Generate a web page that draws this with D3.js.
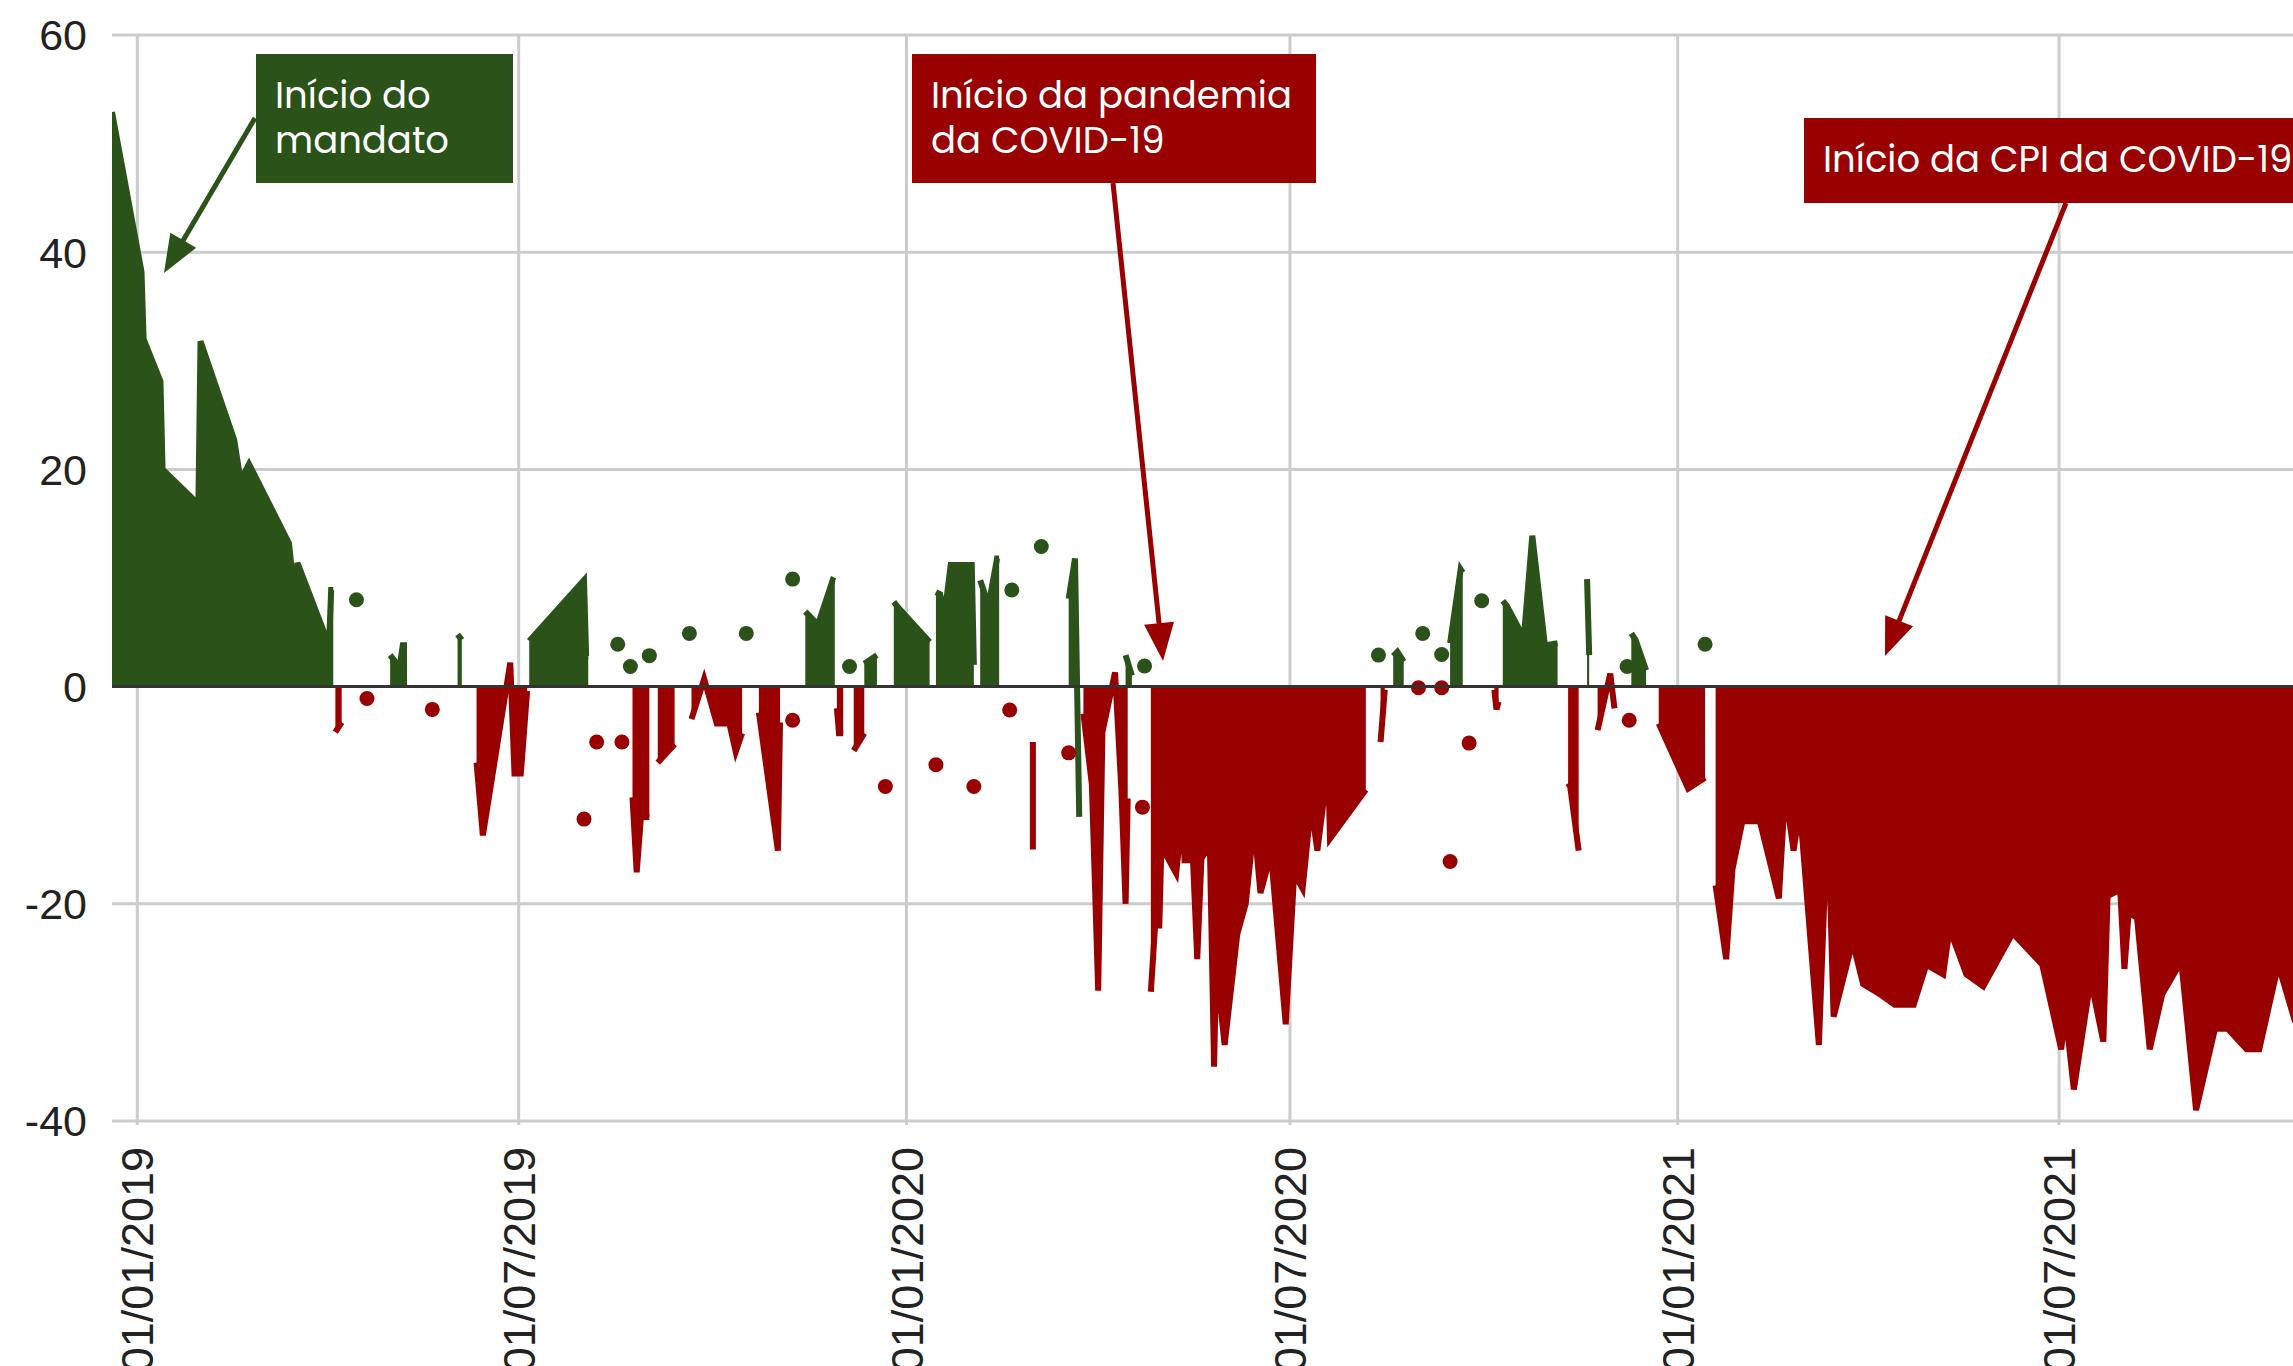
<!DOCTYPE html>
<html>
<head>
<meta charset="utf-8">
<script src="https://cdn.jsdelivr.net/npm/d3@7"></script>
<style>
html, body { margin: 0; padding: 0; background: #ffffff; overflow: hidden; }
</style>
</head>
<body>
<svg id="chart" width="2293" height="1366"></svg>
<script>
// ---------------- DATA ----------------
const xTickDates = ["2019-01-01", "2019-07-01", "2020-01-01", "2020-07-01", "2021-01-01", "2021-07-01"];
const yTicks = [-40, -20, 0, 20, 40, 60];

// Green series (null = gap between polls runs)
const greenDates = [
  "2018-12-20","2019-01-03","2019-01-04","2019-01-12","2019-01-13","2019-01-30","2019-01-31","2019-02-16","2019-02-19","2019-02-23","2019-03-14","2019-03-17","2019-03-18","2019-04-02","2019-04-03","2019-04-04", null,
  "2019-04-15", null,
  "2019-05-01","2019-05-03","2019-05-05","2019-05-07","2019-05-09", null,
  "2019-06-02","2019-06-04", null,
  "2019-07-06","2019-08-01","2019-08-02","2019-08-03", null,
  "2019-08-17", null, "2019-08-23", null, "2019-09-01", null, "2019-09-20", null, "2019-10-17", null, "2019-11-08", null,
  "2019-11-14","2019-11-20","2019-11-27","2019-11-28", null,
  "2019-12-05", null,
  "2019-12-12","2019-12-18", null,
  "2019-12-26","2019-12-28","2020-01-12", null,
  "2020-01-15","2020-01-17","2020-01-19","2020-01-22","2020-02-01","2020-02-02", null,
  "2020-02-05","2020-02-09","2020-02-13","2020-02-14", null,
  "2020-02-20", null, "2020-03-05", null,
  "2020-03-18","2020-03-21","2020-03-23", null,
  "2020-04-14","2020-04-17", null,
  "2020-04-23", null, "2020-08-12", null,
  "2020-08-19","2020-08-21","2020-08-24", null,
  "2020-09-02", null, "2020-09-11", null,
  "2020-09-15","2020-09-20","2020-09-21", null,
  "2020-09-30", null,
  "2020-10-10","2020-10-12","2020-10-20","2020-10-24","2020-10-30","2020-11-05", null,
  "2020-11-19","2020-11-20", null,
  "2020-12-08", null,
  "2020-12-10","2020-12-12","2020-12-17", null,
  "2021-01-14"
];
const greenValues = [
  52.9, 38.2, 32.0, 28.1, 20.0, 16.8, 31.8, 22.7, 19.0, 20.5, 13.2, 7.7, 11.4, 3.8, 8.9, 8.9, null,
  8.0, null,
  2.9, 2.4, 1.2, 3.8, 3.8, null,
  4.8, 4.3, null,
  4.2, 9.8, 2.8, 2.8, null,
  3.9, null, 1.85, null, 2.85, null, 4.9, null, 4.9, null, 9.9, null,
  6.9, 5.7, 9.8, 9.7, null,
  1.85, null,
  2.1, 2.9, null,
  7.8, 7.3, 4.1, null,
  8.7, 8.5, 6.5, 11.2, 11.2, 2.0, null,
  9.8, 7.5, 11.8, 11.8, null,
  8.9, null, 12.9, null,
  8.1, 11.8, -12.0, null,
  2.9, 1.0, null,
  1.9, null, 2.9, null,
  2.8, 3.2, 2.3, null,
  4.9, null, 2.95, null,
  4.0, 10.8, 10.5, null,
  7.9, null,
  7.9, 7.4, 4.5, 13.9, 3.8, 4.0, null,
  9.9, 2.9, null,
  1.85, null,
  4.9, 4.3, 1.5, null,
  3.9
];

// Red series (null = gap)
const redDates = [
  "2019-04-05","2019-04-08", null,
  "2019-04-20", null, "2019-05-21", null,
  "2019-06-11","2019-06-14","2019-06-27","2019-06-29","2019-07-02","2019-07-03","2019-07-05", null,
  "2019-08-01", null, "2019-08-07", null, "2019-08-19", null,
  "2019-08-24","2019-08-26","2019-08-28","2019-09-01", null,
  "2019-09-05","2019-09-13", null,
  "2019-09-21","2019-09-27","2019-10-03","2019-10-09","2019-10-12","2019-10-15", null,
  "2019-10-23","2019-11-01","2019-11-02", null,
  "2019-11-08", null,
  "2019-11-29","2019-11-30","2019-12-02", null,
  "2019-12-07","2019-12-12", null,
  "2019-12-22", null, "2020-01-15", null, "2020-02-02", null, "2020-02-19", null,
  "2020-03-01","2020-03-01", null,
  "2020-03-18", null,
  "2020-03-25","2020-03-29","2020-04-01","2020-04-03","2020-04-09","2020-04-12","2020-04-14","2020-04-15", null,
  "2020-04-22", null,
  "2020-04-26","2020-04-28","2020-04-30","2020-05-01","2020-05-08","2020-05-11","2020-05-12","2020-05-16","2020-05-18","2020-05-20","2020-05-24","2020-05-26","2020-05-27","2020-05-31",
  "2020-06-06","2020-06-10","2020-06-14","2020-06-17","2020-06-22","2020-06-29","2020-07-03","2020-07-07","2020-07-11","2020-07-14","2020-07-17","2020-07-19","2020-07-20","2020-08-06", null,
  "2020-08-13","2020-08-15", null,
  "2020-08-31", null, "2020-09-11", null, "2020-09-15", null, "2020-09-24", null,
  "2020-10-06","2020-10-07","2020-10-08", null,
  "2020-11-10","2020-11-11","2020-11-15", null,
  "2020-11-24","2020-11-30","2020-12-02", null,
  "2020-12-09", null,
  "2020-12-23","2021-01-06","2021-01-14", null,
  "2021-01-19","2021-01-24","2021-01-27","2021-02-02","2021-02-03","2021-02-09","2021-02-18","2021-02-21","2021-02-25","2021-02-28",
  "2021-03-09","2021-03-12","2021-03-14","2021-03-16","2021-03-25","2021-03-30","2021-04-06","2021-04-14","2021-04-23","2021-04-29",
  "2021-05-07","2021-05-10","2021-05-18","2021-05-26","2021-06-09","2021-06-23","2021-07-02","2021-07-04","2021-07-08","2021-07-16",
  "2021-07-22","2021-07-24","2021-07-30","2021-08-01","2021-08-03","2021-08-07","2021-08-13","2021-08-19","2021-08-28","2021-09-04",
  "2021-09-13","2021-09-19","2021-09-28","2021-10-04","2021-10-13","2021-10-20","2021-10-27"
];
const redValues = [
  -4.2, -3.3, null,
  -1.1, null, -2.1, null,
  -7.0, -13.7, 2.2, -8.0, -8.0, -5.5, -0.4, null,
  -12.2, null, -5.1, null, -5.1, null,
  -10.2, -17.1, -12.0, -12.0, null,
  -7.0, -5.3, null,
  -3.0, 0.7, -3.4, -3.4, -6.0, -4.3, null,
  -2.4, -15.1, -3.3, null,
  -3.1, null,
  -2.0, -4.3, -4.3, null,
  -5.9, -4.3, null,
  -9.2, null, -7.2, null, -9.2, null, -2.15, null,
  -5.1, -15.0, null,
  -6.1, null,
  -2.5, -9.0, -28.0, -4.2, 1.3, -9.5, -20.0, -10.3, null,
  -11.1, null,
  -28.1, -22.0, -22.0, -14.7, -17.2, -11.7, -16.0, -16.0, -25.1, -15.8, -14.7, -35.0, -25.6, -33.0,
  -22.8, -20.0, -12.6, -19.0, -15.4, -31.1, -17.2, -18.6, -10.9, -15.1, -10.5, -5.9, -14.0, -9.5, null,
  -5.1, -0.3, null,
  -0.1, null, -0.1, null, -16.1, null, -5.2, null,
  -0.3, -2.1, -1.4, null,
  -8.9, -9.2, -15.1, null,
  -4.0, 1.2, -2.0, null,
  -3.1, null,
  -3.4, -9.4, -8.4, null,
  -18.3, -25.1, -16.8, -11.2, -12.4, -12.4, -19.5, -9.6, -15.1, -11.2,
  -33.0, -17.5, -16.8, -30.4, -23.5, -27.4, -28.2, -29.3, -29.3, -25.6,
  -26.5, -22.3, -26.5, -27.6, -22.7, -25.6, -33.4, -30.0, -37.1, -27.0,
  -32.7, -19.3, -18.7, -26.0, -20.8, -21.3, -33.4, -28.3, -25.3, -39.0,
  -31.5, -31.5, -33.4, -33.4, -25.6, -30.2, -27.0
];

// Annotation texts
const annotationTexts = [
  ["Início do", "mandato"],
  ["Início da pandemia", "da COVID-19"],
  ["Início da CPI da COVID-19"]
];

// ---------------- STYLE / LAYOUT ----------------
const W = 2293, H = 1366;
const plot = { left: 112, right: 2293, top: 35, bottom: 1121 };
const GREEN = "#2a5219", RED = "#990000";
const axisFont = "'Liberation Sans', Arial, Helvetica, sans-serif";
const annFont = "'Poppins', 'Open Sans', 'Noto Sans', sans-serif";

const parse = d3.utcParse("%Y-%m-%d");
const fmt = d3.utcFormat("%d/%m/%Y");

const x = d3.scaleUtc()
  .domain([parse("2018-12-20"), parse("2021-10-20")])
  .range([plot.left, plot.right]);
const y = d3.scaleLinear().domain([-40, 60]).range([plot.bottom, plot.top]);

const svg = d3.select("#chart");

// clip
svg.append("defs").append("clipPath").attr("id", "plotclip")
  .append("rect").attr("x", plot.left).attr("y", 0)
  .attr("width", plot.right - plot.left).attr("height", plot.bottom + 6);

// gridlines
const grid = svg.append("g");
grid.selectAll("line.h").data(yTicks).join("line")
  .attr("x1", plot.left).attr("x2", plot.right)
  .attr("y1", d => y(d)).attr("y2", d => y(d))
  .attr("stroke", "#cccccc").attr("stroke-width", 3);
grid.selectAll("line.v").data(xTickDates.map(parse)).join("line")
  .attr("x1", d => x(d)).attr("x2", d => x(d))
  .attr("y1", plot.top).attr("y2", plot.bottom + 4)
  .attr("stroke", "#cccccc").attr("stroke-width", 3);

// y axis labels
svg.append("g").selectAll("text").data(yTicks).join("text")
  .attr("x", 87).attr("y", d => y(d)).attr("dy", "0.36em")
  .attr("text-anchor", "end")
  .attr("font-family", axisFont).attr("font-size", 43)
  .attr("fill", "#222222")
  .text(d => d);

// x axis labels (rotated)
svg.append("g").selectAll("text").data(xTickDates.map(parse)).join("text")
  .attr("transform", d => `translate(${x(d)},1147) rotate(-90)`)
  .attr("dy", "0.36em")
  .attr("text-anchor", "end")
  .attr("font-family", axisFont).attr("font-size", 45)
  .attr("fill", "#222222")
  .text(d => fmt(d));

// split a series into segments at nulls
function segments(dates, values) {
  const segs = [];
  let cur = [];
  dates.forEach((d, i) => {
    if (d === null || values[i] === null) {
      if (cur.length) segs.push(cur);
      cur = [];
    } else {
      cur.push({ date: parse(d), v: values[i] });
    }
  });
  if (cur.length) segs.push(cur);
  return segs;
}

const area = d3.area().x(d => x(d.date)).y0(y(0)).y1(d => y(d.v));
const line = d3.line().x(d => x(d.date)).y(d => y(d.v));

const series = [
  { segs: segments(greenDates, greenValues), color: GREEN },
  { segs: segments(redDates, redValues), color: RED }
];

const marks = svg.append("g").attr("clip-path", "url(#plotclip)");
series.forEach(s => {
  const multi = s.segs.filter(g => g.length > 1);
  marks.append("g").selectAll("path.a").data(multi).join("path")
    .attr("d", area).attr("fill", s.color).attr("stroke", "none");
  marks.append("g").selectAll("path.l").data(multi).join("path")
    .attr("d", line).attr("fill", "none").attr("stroke", s.color)
    .attr("stroke-width", 6);
});

// baseline
svg.append("line")
  .attr("x1", plot.left).attr("x2", plot.right)
  .attr("y1", y(0)).attr("y2", y(0))
  .attr("stroke", "#333333").attr("stroke-width", 3);

// isolated points as dots
series.forEach(s => {
  const singles = s.segs.filter(g => g.length === 1).map(g => g[0]);
  marks.append("g").selectAll("circle").data(singles).join("circle")
    .attr("cx", d => x(d.date)).attr("cy", d => y(d.v)).attr("r", 7.5)
    .attr("fill", s.color);
});

// ---------------- ANNOTATIONS ----------------
// font size calibrated so the longest two-line label has the reference width
const probe = svg.append("text").attr("font-family", annFont).attr("font-size", 100)
  .text("Início da pandemia");
const annSize = 100 * 361 / probe.node().getComputedTextLength();
probe.remove();

const annLayout = [
  { fill: GREEN, box: [256, 54, 257, 129], tx: 275, base: [108, 153], from: [255, 118], to: [164, 273] },
  { fill: RED,   box: [912, 54, 404, 129], tx: 931, base: [108, 153], from: [1113, 183], to: [1163, 661] },
  { fill: RED,   box: [1804, 118, 520, 85], tx: 1823, base: [172], from: [2066, 203], to: [1885, 656] }
];

const ann = svg.append("g");
annLayout.forEach((a, i) => {
  // arrow
  const [sx, sy] = a.from, [tx, ty] = a.to;
  const len = Math.hypot(tx - sx, ty - sy);
  const ux = (tx - sx) / len, uy = (ty - sy) / len;
  const L = 38, Wd = 15;
  const bx = tx - L * ux, by = ty - L * uy;
  ann.append("line").attr("x1", sx).attr("y1", sy).attr("x2", bx + ux * 2).attr("y2", by + uy * 2)
    .attr("stroke", a.fill).attr("stroke-width", 5);
  ann.append("polygon")
    .attr("points", [[tx, ty], [bx - Wd * uy, by + Wd * ux], [bx + Wd * uy, by - Wd * ux]].map(p => p.join(",")).join(" "))
    .attr("fill", a.fill);
  // box
  ann.append("rect").attr("x", a.box[0]).attr("y", a.box[1])
    .attr("width", a.box[2]).attr("height", a.box[3]).attr("fill", a.fill);
  annotationTexts[i].forEach((t, j) => {
    ann.append("text").attr("x", a.tx).attr("y", a.base[j])
      .attr("font-family", annFont).attr("font-size", annSize)
      .attr("fill", "#ffffff").text(t);
  });
});
</script>
</body>
</html>
